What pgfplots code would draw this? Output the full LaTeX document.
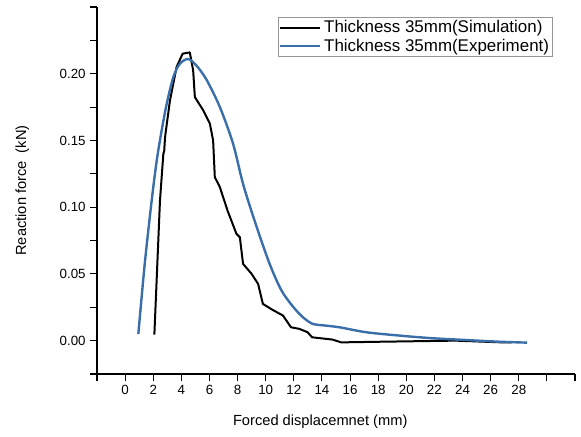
\documentclass[border=0pt]{standalone}
\usepackage{fontspec}
\setmainfont{Liberation Sans}
\usepackage{pgfplots}
\pgfplotsset{compat=1.18}
\definecolor{expblue}{RGB}{58,110,168}
\definecolor{legframe}{RGB}{150,150,150}

\begin{document}
\begin{tikzpicture}
\useasboundingbox (-72.75pt,-46.5pt) rectangle (363pt,280.5pt);
\begin{axis}[
    scale only axis,
    width=358.5pt, height=275.25pt,
    xmin=-2, xmax=32, ymin=-0.025, ymax=0.25,
    axis x line=bottom, axis y line=left,
    axis line style={-, line width=0.8pt},
    tick align=outside,
    tick style={black, line width=0.8pt},
    major tick length=5pt, minor tick length=5pt,
    xtick={0,2,...,28},
    extra x ticks={-2,30,32}, extra x tick labels={},
    ytick={0,0.05,0.1,0.15,0.2},
    minor ytick={-0.025,0.025,0.075,0.125,0.175,0.225,0.25},
    yticklabel style={/pgf/number format/.cd, fixed, fixed zerofill, precision=2},
    /pgf/number format/assume math mode=true,
    tick label style={font=\fontsize{10}{11}\selectfont},
    xlabel={Forced displacemnet (mm)},
    ylabel={Reaction force \ (kN)},
    label style={font=\fontsize{11}{13}\selectfont},
    xlabel style={at={(ticklabel cs:0.467)}, anchor=north, yshift=2pt},
    ylabel style={yshift=16pt},
    legend style={at={(axis description cs:0.379,0.973)}, anchor=north west,
        draw=legframe, font=\fontsize{12.7}{14}\selectfont,
        inner sep=0.5pt, row sep=-1pt},
    legend cell align=left,
    legend image code/.code={\draw[#1] (0pt,0pt) -- (30pt,0pt);},
]
\addplot[black, line width=1.5pt, line join=round] coordinates {
(2.08,0.0045) (2.48,0.105) (2.72,0.14) (2.78,0.142) (2.84,0.1525) (3.19,0.18)
(3.66,0.205) (4.09,0.215) (4.6,0.216) (4.84,0.2025) (4.96,0.1825) (5.56,0.1725)
(6.03,0.1625) (6.26,0.15) (6.38,0.1225) (6.74,0.115) (7.3,0.097)
(7.92,0.080) (8.16,0.0775) (8.39,0.0575) (9.0,0.050) (9.46,0.0425) (9.8,0.0275)
(10.5,0.023) (11.23,0.0188) (11.8,0.010) (12.4,0.0088) (12.98,0.0063) (13.3,0.0025)
(14.75,0.0008) (15.37,-0.0013) (18.3,-0.0008) (23.5,0) (26.8,-0.0013) (27.5,-0.0013)
};
\addlegendentry{Thickness 35mm(Simulation)}
\addplot[expblue, line width=1.8pt, smooth, tension=0.5] coordinates {
(0.94,0.005) (1.4,0.058) (1.89,0.105) (2.25,0.135) (2.6,0.1575) (2.96,0.1775)
(3.43,0.1975) (3.9,0.2075) (4.49,0.211) (5.08,0.206) (5.79,0.1955) (6.74,0.175)
(7.68,0.1475) (8.4,0.117) (9.3,0.087) (10.28,0.0575) (11.1,0.038) (11.9,0.026)
(12.65,0.0175) (13.35,0.0125) (14.07,0.0115) (15.25,0.010) (17.14,0.0063)
(19.5,0.0038) (21.86,0.0018) (24.2,0.0005) (26.6,-0.0008) (28.6,-0.0015)
};
\addlegendentry{Thickness 35mm(Experiment)}
\end{axis}
\end{tikzpicture}
\end{document}
